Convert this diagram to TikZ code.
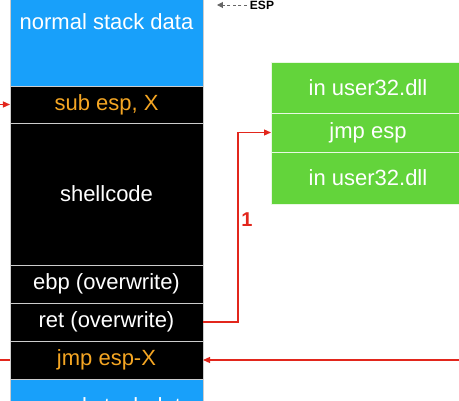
\documentclass[tikz,border=0pt]{standalone}
\usepackage{fontspec}
\setmainfont{Liberation Sans}
\usetikzlibrary{positioning, arrows.meta}

\definecolor{stackblue}{RGB}{24,160,250}
\definecolor{codeorange}{RGB}{245,166,35}
\definecolor{dllgreen}{RGB}{99,212,59}
\definecolor{arrowred}{RGB}{226,38,28}

\begin{document}
\begin{tikzpicture}[x=1pt, y=-1pt,
	every node/.style={inner sep=0pt, outer sep=0pt, align=center, font=\fontsize{22}{26}\selectfont},
	stackbox/.style={draw=white!80!black, line width=0.8pt, minimum width=193pt},
	dllbox/.style={draw=white!85!dllgreen, line width=0.8pt, minimum width=194pt, fill=dllgreen, text=white},
	redline/.style={draw=arrowred, line width=1.2pt},
	redarrow/.style={redline, -{Triangle[length=7pt, width=6pt]}}]
	\useasboundingbox (0,0) rectangle (459,400);
	\clip (0,0) rectangle (459,400);
	%Stack Column
	\node[stackbox, minimum height=128pt, fill=stackblue, text=white] (top) at (106.5,22) {normal stack data};
	\node[stackbox, minimum height=37pt, fill=black, text=codeorange] (sub) at (106.5,104.5) {sub esp, X};
	\node[stackbox, minimum height=142pt, fill=black, text=white] (shell) at (106.5,194) {shellcode};
	\node[stackbox, minimum height=38pt, fill=black, text=white] (ebp) at (106.5,284) {ebp (overwrite)};
	\node[stackbox, minimum height=38pt, fill=black, text=white] (ret) at (106.5,322) {ret (overwrite)};
	\node[stackbox, minimum height=38pt, fill=black, text=codeorange] (espx) at (106.5,360) {jmp esp-X};
	\node[stackbox, minimum height=54pt, fill=stackblue, text=white] (bottom) at (106.5,406) {normal stack data};
	%ESP marker
	\node[font=\bfseries\fontsize{12}{14}\selectfont] (esp) at (262,5) {ESP};
	\draw[gray!80!black, line width=1pt, dashed, dash pattern=on 3pt off 2.5pt, -{Triangle[length=6pt, width=6pt]}] (esp.west) ++(-3,0) -- ++(-30,0);
	%user32.dll
	\node[dllbox, minimum height=51pt] (dlla) at (368,87.5) {in user32.dll};
	\node[dllbox, minimum height=39pt] (jmp) at (368,132.5) {jmp esp};
	\node[dllbox, minimum height=52pt] (dllb) at (368,178) {in user32.dll};
	%Arrows
	\draw[redarrow] (ret.east) -- ++(35,0) |- (jmp.west);
	\node[text=arrowred, font=\bfseries\fontsize{20}{24}\selectfont] (one) at (247,220) {1};
	\coordinate (rightin) at (459,360);
	\draw[redarrow] (rightin) -- (espx.east);
	\coordinate (leftout) at (0,360);
	\draw[redline] (espx.west) -- (leftout);
	\coordinate (leftin) at (0,104.5);
	\draw[redarrow] (leftin) -- (sub.west);
\end{tikzpicture}
\end{document}
